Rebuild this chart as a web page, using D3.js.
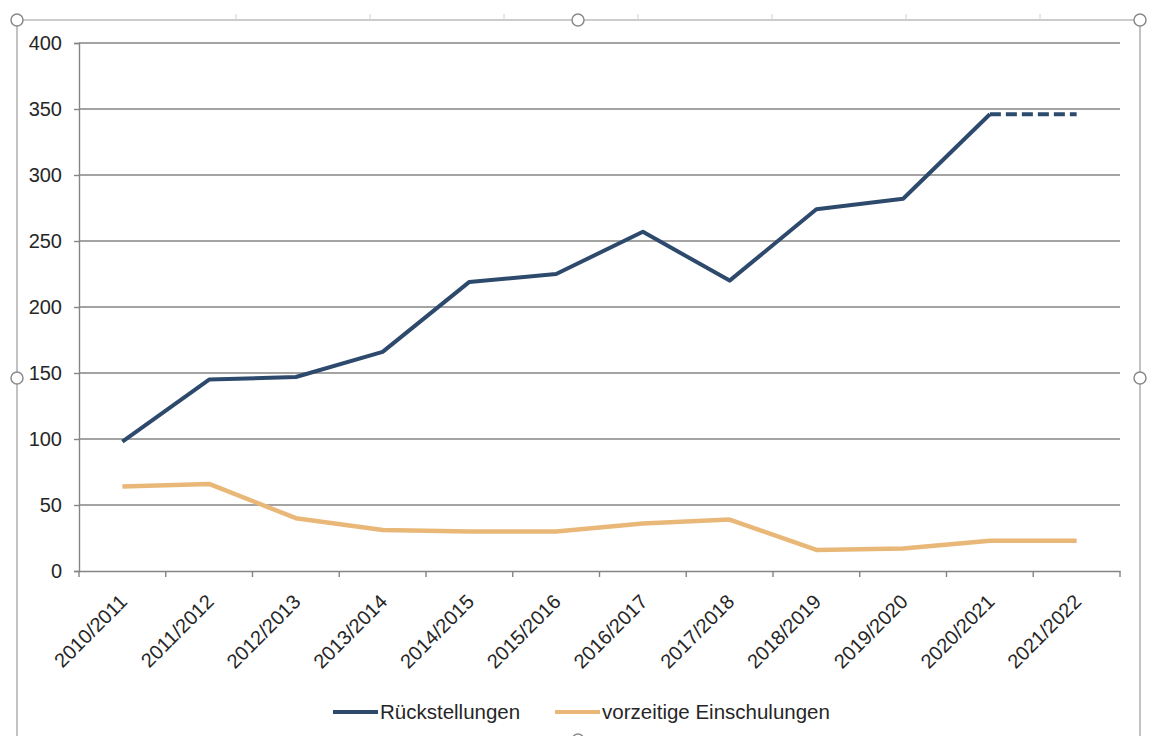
<!DOCTYPE html>
<html>
<head>
<meta charset="utf-8">
<script src="https://cdn.jsdelivr.net/npm/d3@7"></script>
<style>
  html, body { margin: 0; padding: 0; background: #fff; }
  svg { display: block; }
  text { font-family: "Liberation Sans", Arial, sans-serif; fill: #262626; }
</style>
</head>
<body>
<svg id="chart" width="1152" height="736"></svg>
<script>
const categories = ["2010/2011","2011/2012","2012/2013","2013/2014","2014/2015","2015/2016","2016/2017","2017/2018","2018/2019","2019/2020","2020/2021","2021/2022"];
const rueckstellungen = [98, 145, 147, 166, 219, 225, 257, 220, 274, 282, 346, 346];
const vorzeitige = [64, 66, 40, 31, 30, 30, 36, 39, 16, 17, 23, 23];
const yTicks = [0, 50, 100, 150, 200, 250, 300, 350, 400];
const seriesNames = ["Rückstellungen", "vorzeitige Einschulungen"];
const colors = ["#2d4a6d", "#e9b879"];

const svg = d3.select("#chart");
const W = 1152, H = 736;
const mLeft = 79, mRight = 1120, mTop = 43, mBottom = 571;

// selection frame (Excel edit look)
const frame = svg.append("g");
frame.append("path").attr("d", `M17,${H} L17,20 L1140,20 L1140,${H}`)
  .attr("fill", "none").attr("stroke", "#9a9a9a").attr("stroke-width", 1.2);
[236, 370, 504, 638, 772, 906, 1040].forEach(xx => {
  frame.append("line").attr("x1", xx).attr("x2", xx).attr("y1", 14).attr("y2", 20)
    .attr("stroke", "#d0d0d0").attr("stroke-width", 1);
});
[[17,20],[578,20],[1140,20],[17,378],[1140,378],[578,740]].forEach(([hx,hy]) => {
  frame.append("circle").attr("cx", hx).attr("cy", hy).attr("r", 6)
    .attr("fill", "#fff").attr("stroke", "#8a8a8a").attr("stroke-width", 1.5);
});

const x = d3.scaleBand().domain(categories).range([mLeft, mRight]).padding(0);
const y = d3.scaleLinear().domain([0, 400]).range([mBottom, mTop]);
const cx = c => x(c) + x.bandwidth() / 2;

// gridlines
svg.append("g").selectAll("line").data(yTicks.filter(t => t > 0)).join("line")
  .attr("x1", mLeft).attr("x2", mRight)
  .attr("y1", d => y(d)).attr("y2", d => y(d))
  .attr("stroke", "#858585").attr("stroke-width", 1.4);

// y axis
const yAxis = svg.append("g").attr("transform", `translate(${mLeft},0)`)
  .call(d3.axisLeft(y).tickValues(yTicks).tickSize(5).tickPadding(12).tickFormat(d3.format("d")));
yAxis.select(".domain").attr("stroke", "#858585").attr("stroke-width", 1.4);
yAxis.selectAll(".tick line").attr("stroke", "#858585").attr("stroke-width", 1.4);
yAxis.selectAll(".tick text").attr("font-size", 20).attr("fill", "#262626")
  .attr("font-family", "Liberation Sans, Arial, sans-serif");

// x axis
const xAxis = svg.append("g").attr("transform", `translate(0,${mBottom})`)
  .call(d3.axisBottom(x).tickSize(0).tickFormat(""));
xAxis.select(".domain").attr("stroke", "#858585").attr("stroke-width", 1.4);
xAxis.selectAll(".tick").remove();
const bounds = categories.map(c => x(c)).concat([mRight]);
svg.append("g").selectAll("line").data(bounds).join("line")
  .attr("x1", d => d).attr("x2", d => d).attr("y1", mBottom).attr("y2", mBottom + 6)
  .attr("stroke", "#858585").attr("stroke-width", 1.4);
svg.append("g").selectAll("text").data(categories).join("text")
  .attr("transform", d => `translate(${cx(d) + 1},${mBottom + 27}) rotate(-45)`)
  .attr("text-anchor", "end").attr("dy", "0.35em")
  .attr("font-size", 20).text(d => d);

// lines
const line = d3.line().x((d, i) => cx(categories[i])).y(d => y(d));
svg.append("path").datum(vorzeitige).attr("d", line)
  .attr("fill", "none").attr("stroke", colors[1]).attr("stroke-width", 4.5)
  .attr("stroke-linejoin", "round");
const n = categories.length;
const solid = rueckstellungen.slice(0, n - 1);
svg.append("path").datum(solid).attr("d", line)
  .attr("fill", "none").attr("stroke", colors[0]).attr("stroke-width", 4)
  .attr("stroke-linejoin", "round");
svg.append("line")
  .attr("x1", cx(categories[n - 2])).attr("y1", y(rueckstellungen[n - 2]))
  .attr("x2", cx(categories[n - 1])).attr("y2", y(rueckstellungen[n - 1]))
  .attr("stroke", colors[0]).attr("stroke-width", 4)
  .attr("stroke-dasharray", "11,5");

// legend
const ly = 712;
const leg = [{lx: 333, name: seriesNames[0], color: colors[0]}, {lx: 555, name: seriesNames[1], color: colors[1]}];
leg.forEach(l => {
  svg.append("line").attr("x1", l.lx).attr("x2", l.lx + 45).attr("y1", ly).attr("y2", ly)
    .attr("stroke", l.color).attr("stroke-width", 4);
  svg.append("text").attr("x", l.lx + 47).attr("y", ly).attr("dy", "0.35em")
    .attr("font-size", 20.5).text(l.name);
});
</script>
</body>
</html>
